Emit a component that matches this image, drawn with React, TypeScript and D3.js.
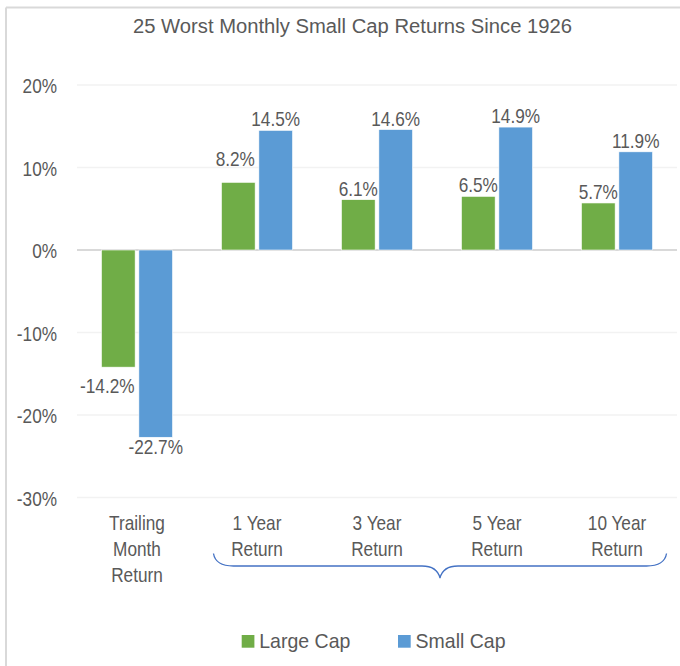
import * as d3 from 'd3'

const categories = ['Trailing Month Return', '1 Year Return', '3 Year Return', '5 Year Return', '10 Year Return']
const categoryLines = [['Trailing', 'Month', 'Return'], ['1 Year', 'Return'], ['3 Year', 'Return'], ['5 Year', 'Return'], ['10 Year', 'Return']]
const seriesNames = ['Large Cap', 'Small Cap']
const largeCap = [-14.2, 8.2, 6.1, 6.5, 5.7]
const smallCap = [-22.7, 14.5, 14.6, 14.9, 11.9]
const yTicks = [20, 10, 0, -10, -20, -30]

const colors = ['#70ad47', '#5b9bd5']
const textColor = '#595959'
const W = 680
const H = 666

// manual nudges of a couple of data labels (category-series), as placed in the original
const labelShift: Record<string, [number, number]> = {
  '0-0': [-11, 9],
  '1-0': [-3, -12],
}

// narrow-looking label text: Arial-ish glyphs squeezed horizontally
function Label({ x, y, children, anchor = 'middle', sx = 0.82, size = 21 }: {
  x: number
  y: number
  children: string
  anchor?: 'start' | 'middle' | 'end'
  sx?: number
  size?: number
}) {
  return (
    <text
      transform={`translate(${x},${y}) scale(${sx},1)`}
      textAnchor={anchor}
      fontSize={size}
      fill={textColor}
      fontFamily="'Liberation Sans', Arial, sans-serif"
    >
      {children}
    </text>
  )
}

export default function App() {
  const left = 77
  const right = 677
  const y = d3.scaleLinear().domain([-30, 20]).range([497.5, 85])
  const x0 = d3.scaleBand<string>().domain(categories).range([left, right]).paddingInner(0.408).paddingOuter(0.204)
  const x1 = d3.scaleBand<string>().domain(seriesNames).range([0, x0.bandwidth()]).paddingInner(0.1)
  const fmt = (v: number) => `${v.toFixed(1)}%`
  const values = [largeCap, smallCap]

  const braceL = x0(categories[1])! - 8
  const braceR = x0(categories[4])! + x0.bandwidth() + 14
  const braceMid = (braceL + braceR) / 2
  const bTop = y(-30) + 56
  const bLine = y(-30) + 68.5
  const bTip = y(-30) + 80.5
  const brace = d3.path()
  brace.moveTo(braceL, bTop)
  brace.quadraticCurveTo(braceL + 2, bLine, braceL + 20, bLine)
  brace.lineTo(braceMid - 18, bLine)
  brace.quadraticCurveTo(braceMid - 3, bLine, braceMid, bTip)
  brace.quadraticCurveTo(braceMid + 3, bLine, braceMid + 18, bLine)
  brace.lineTo(braceR - 20, bLine)
  brace.quadraticCurveTo(braceR - 2, bLine, braceR, bTop)

  return (
    <svg width={W} height={H} style={{ position: 'absolute', left: 0, top: 0, background: '#fff' }}>
      {/* frame */}
      <line x1={6} x2={W} y1={7.5} y2={7.5} stroke="#d9d9d9" strokeWidth={2} />
      <line x1={6} x2={6} y1={7.5} y2={H} stroke="#d9d9d9" strokeWidth={2} />

      <text
        x={352.5}
        y={33}
        textAnchor="middle"
        fontSize={20}
        fill={textColor}
        fontFamily="'Liberation Sans', Arial, sans-serif"
        textLength={439}
        lengthAdjust="spacingAndGlyphs"
      >
        25 Worst Monthly Small Cap Returns Since 1926
      </text>

      {/* gridlines and y tick labels */}
      {yTicks.map((t) => (
        <g key={t}>
          <line
            x1={left}
            x2={right}
            y1={y(t)}
            y2={y(t)}
            stroke={t === 0 ? '#d9d9d9' : '#f2f2f2'}
            strokeWidth={t === 0 ? 2 : 1.5}
          />
          <Label x={57} y={y(t) + 8} anchor="end">
            {`${t}%`}
          </Label>
        </g>
      ))}

      {/* bars */}
      {categories.map((c, i) => (
        <g key={c} transform={`translate(${x0(c)},0)`}>
          {seriesNames.map((s, k) => {
            const v = values[k][i]
            return (
              <rect
                key={s}
                x={x1(s)}
                y={Math.min(y(v), y(0))}
                width={x1.bandwidth()}
                height={Math.abs(y(v) - y(0))}
                fill={colors[k]}
                stroke="#fff"
                strokeWidth={0.6}
              />
            )
          })}
        </g>
      ))}

      {/* data labels */}
      {categories.map((c, i) =>
        seriesNames.map((s, k) => {
          const v = values[k][i]
          const [dx, dy] = labelShift[`${i}-${k}`] ?? [0, 0]
          const cx = x0(c)! + x1(s)! + x1.bandwidth() / 2
          const by = v >= 0 ? y(v) - 4 : y(v) + 17
          return (
            <Label key={`${c}-${s}`} x={cx + dx} y={by + dy}>
              {fmt(v)}
            </Label>
          )
        })
      )}

      {/* category labels */}
      {categories.map((c, i) =>
        categoryLines[i].map((line, j) => (
          <Label key={`${c}-${j}`} x={x0(c)! + x0.bandwidth() / 2} y={y(-30) + 32.5 + j * 26}>
            {line}
          </Label>
        ))
      )}

      <path d={brace.toString()} fill="none" stroke="#4472c4" strokeWidth={1.3} />

      {/* legend */}
      {seriesNames.map((s, k) => {
        const lx = k === 0 ? 241.7 : 398
        return (
          <g key={s}>
            <rect x={lx} y={635} width={12.7} height={12.7} fill={colors[k]} />
            <Label x={lx + 17.5} y={648} anchor="start" sx={0.93}>
              {s}
            </Label>
          </g>
        )
      })}
    </svg>
  )
}
